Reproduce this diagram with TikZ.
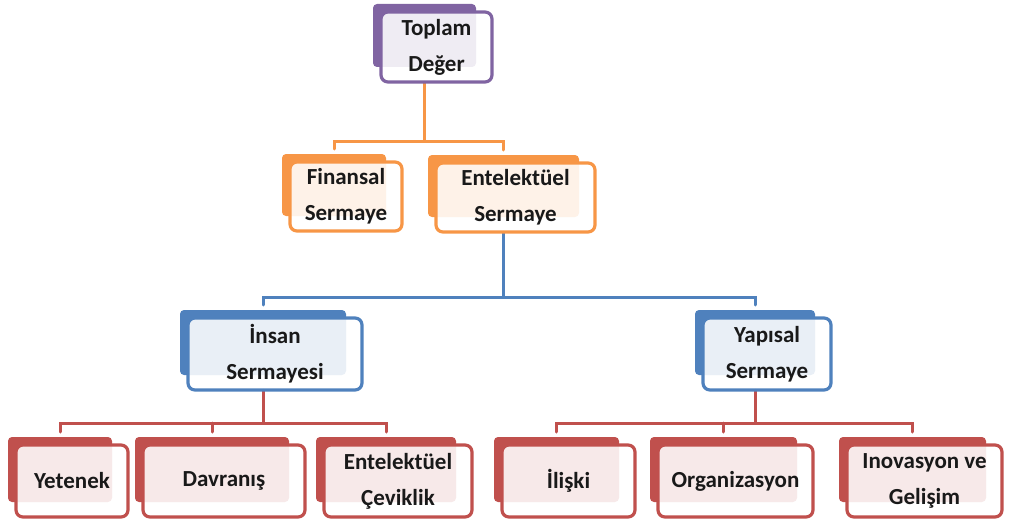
\documentclass[tikz,border=0pt]{standalone}
\usepackage{fontspec}
\setmainfont{Carlito}
\definecolor{cpur}{HTML}{8064A2}
\definecolor{corg}{HTML}{F79646}
\definecolor{cblu}{HTML}{4F81BD}
\definecolor{cred}{HTML}{C0504D}
\pgfdeclarelayer{bg}
\pgfdeclarelayer{mid}
\pgfsetlayers{bg,mid,main}
\newcommand\mkbox[7]{%
  \node[box=#2, minimum width=#5pt, minimum height=#6pt] (#1) at (#3,#4) {#7};
  \begin{pgfonlayer}{mid}
    \fill[backbox=#2] ([shift={(-8pt,8pt)}]#1.north west) rectangle ([shift={(-16pt,15pt)}]#1.south east);
  \end{pgfonlayer}
  \coordinate (#1-up) at ([shift={(-12pt,13pt)}]#1.north);
  \coordinate (#1-dn) at ([xshift=-12pt]#1.south);
}
\begin{document}
\begin{tikzpicture}[x=1pt,y=-1pt,
  box/.style={draw=#1, fill=white, fill opacity=0.88, text opacity=1,
    line width=3.2pt, rounded corners=7pt, inner sep=0pt, outer sep=0pt,
    align=center, text=black!90,
    font=\bfseries\fontsize{23}{36}\selectfont},
  backbox/.style={fill=#1, rounded corners=4pt},
  conn/.style={draw=#1, line width=3pt, line cap=round}]
\useasboundingbox (0,0) rectangle (1014,519);

\mkbox{top}{cpur}{436.5}{47}{111}{70}{Toplam\\Değer}
\mkbox{fin}{corg}{346}{196.5}{112}{69}{Finansal\\Sermaye}
\mkbox{ent}{corg}{515.5}{197.5}{159}{69}{Entelektüel\\Sermaye}
\mkbox{ins}{cblu}{275}{354}{174}{72}{İnsan\\Sermayesi}
\mkbox{yap}{cblu}{767}{354}{128}{72}{Yapısal\\Sermaye}
\mkbox{yet}{cred}{72}{481}{112}{72}{Yetenek}
\mkbox{dav}{cred}{224}{481}{162}{72}{Davranış}
\mkbox{cev}{cred}{398}{481}{148}{72}{Entelektüel\\Çeviklik}
\mkbox{ili}{cred}{568.5}{481}{133}{72}{İlişki}
\mkbox{org}{cred}{735.5}{481}{155}{72}{Organizasyon}
\mkbox{ino}{cred}{924.5}{481}{155}{72}{Inovasyon ve\\Gelişim}

\coordinate (hO) at (0,141);
\coordinate (hB) at (0,297);
\coordinate (hR) at (0,423);

\begin{pgfonlayer}{bg}
  \draw[conn=corg] (top-dn) -- (top-dn |- hO);
  \draw[conn=corg] (fin-up) -- (fin-up |- hO) -- (ent-up |- hO) -- (ent-up);
  \draw[conn=cblu] (ent-dn) -- (ent-dn |- hB);
  \draw[conn=cblu] (ins-up) -- (ins-up |- hB) -- (yap-up |- hB) -- (yap-up);
  \draw[conn=cred] (ins-dn) -- (ins-dn |- hR);
  \draw[conn=cred] (yet-up) -- (yet-up |- hR) -- (cev-up |- hR) -- (cev-up);
  \draw[conn=cred] (dav-up |- hR) -- (dav-up);
  \draw[conn=cred] (yap-dn) -- (yap-dn |- hR);
  \draw[conn=cred] (ili-up) -- (ili-up |- hR) -- (ino-up |- hR) -- (ino-up);
  \draw[conn=cred] (org-up |- hR) -- (org-up);
\end{pgfonlayer}
\end{tikzpicture}
\end{document}
